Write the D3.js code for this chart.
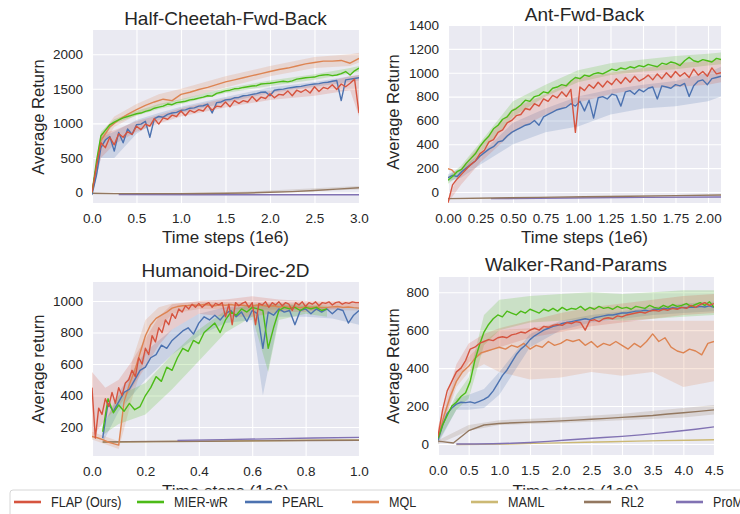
<!DOCTYPE html>
<html>
<head>
<meta charset="utf-8">
<script src="https://cdn.jsdelivr.net/npm/d3@7"></script>
<style>
  body { margin: 0; background: #fff; }
  svg text { font-family: "Liberation Sans", Arial, sans-serif; fill: #262626; }
</style>
</head>
<body>
<svg id="chart" width="740" height="514"></svg>
<script>
// ---- series ----
const seriesNames = ["FLAP (Ours)", "MIER-wR", "PEARL", "MQL", "MAML", "RL2", "ProMP"];
const seriesColors = ["#d6543f", "#4cbb17", "#4c72b0", "#dd8452", "#ccb974", "#937860", "#8172b3"];

// ---- Half-Cheetah-Fwd-Back ----
const hcXTicks = [0, 0.5, 1, 1.5, 2, 2.5, 3];
const hcYTicks = [0, 500, 1000, 1500, 2000];
const hcFlap = [0,380,720,650,800,690,850,800,880,840, 960,910,990,960,1070,990,1080,1060,1120,1100,
  1180,1110,1190,1160,1200,1180,1260,1190,1250,1240, 1310,1240,1330,1290,1330,1310,1390,1320,1380,1360,
  1430,1370,1420,1410,1470,1400,1480,1450,1490,1440, 1530,1460,1520,1500,1560,1490,1570,1530,1580,1640, 1150];
const hcPearl = [-30,250,650,760,810,600,870,720,920,840, 980,990,1030,800,1070,1100,1090,1130,1150,1160,
  1190,1195,1220,1225,1250,1255,1280,1150,1300,1310, 1340,1345,1370,1375,1400,1405,1420,1430,1450,1455,
  1400,1480,1490,1495,1510,1520,1530,1535,1550,1560, 1570,1575,1590,1595,1610,1620,1330,1630,1640,1650, 1660];
const hcMier = [0,450,820,900,980,1020,1050,1080,1100,1120, 1140,1150,1175,1190,1220,1235,1250,1280,1270,1300,
  1310,1320,1340,1350,1365,1380,1400,1395,1435,1450, 1470,1480,1500,1505,1520,1530,1540,1545,1570,1575,
  1580,1590,1600,1610,1600,1615,1640,1650,1660,1665, 1670,1690,1700,1705,1690,1700,1720,1750,1700,1760, 1800];
const hcMql = [0,750,950,1050,1130,1200,1260,1310,1350,1330, 1420,1450,1490,1520,1560,1600,1630,1660,1690,1720,
  1750,1780,1800,1830,1860,1880,1900,1900,1910,1870, 1940];
const hcRl2 = [-10,-15,-15,-15,-15,-12,-10,-5,5,15,30,50,70];
const hcPromp = [-28,-30,-30,-30];
const hcBandX = [0, 0.1, 0.25, 0.5, 0.75, 1.0, 1.5, 2.0, 2.5, 2.9, 3.0];
const hcFlapLo = [-50,500,700,880,1000,1100,1230,1340,1400,1480,1100];
const hcFlapHi = [50,850,900,1030,1120,1220,1360,1470,1560,1680,1700];
const hcPearlLo = [-50,500,500,850,1050,1150,1300,1440,1530,1600,1620];
const hcPearlHi = [50,800,880,1050,1150,1240,1380,1520,1600,1680,1700];
const hcMierLo = [-50,750,1000,1110,1210,1280,1440,1540,1630,1720,1750];
const hcMierHi = [50,880,1060,1180,1280,1350,1510,1620,1710,1800,1830];
const hcMqlLo = [-50,650,950,1120,1260,1340,1520,1680,1800,1830,1880];
const hcMqlHi = [50,850,1100,1280,1420,1500,1680,1830,1960,2000,2020];
const hcRl2BandX = [0, 1.5, 3];
const hcRl2Lo = [-25,-25,45];
const hcRl2Hi = [-5,0,95];

// ---- Ant-Fwd-Back ----
const antXTicks = [0, 0.25, 0.5, 0.75, 1, 1.25, 1.5, 1.75, 2];
const antYTicks = [0, 200, 400, 600, 800, 1000, 1200, 1400];
const antMier = [100,130,170,190,240,280,320,380,430,470, 530,560,610,630,680,700,730,770,760,800,
  810,840,830,870,880,900,890,930,960,950, 980,970,990,1000,990,1010,1030,1020,1040,1030,
  1050,1040,1060,1050,1070,1060,1050,1080,1070,1090, 1080,1060,1100,1130,1100,1090,1110,1100,1090,1120, 1110];
const antFlap = [-90,60,110,150,190,230,260,320,350,420, 440,500,520,580,600,640,650,700,690,740,
  720,780,760,810,790,840,800,860,500,880, 850,900,870,920,880,930,900,950,910,960,
  920,970,930,950,980,940,990,950,1000,960, 1010,970,1000,960,1030,980,1010,970,1040,990, 1000];
const antPearl = [120,140,130,170,200,230,260,300,330,360, 380,420,430,470,500,520,540,560,570,600,
  560,630,650,670,690,700,710,740,720,760, 680,770,620,790,800,780,820,810,720,840,
  850,820,860,840,870,880,780,890,880,870, 900,890,910,800,890,930,940,900,950,960, 970];
const antMql = [195,185,150];
const antRl2 = [-55,-50,-45,-40,-35,-30,-25];
const antPromp = [-55,-50,-45,-42];
const antBandX = [0, 0.1, 0.25, 0.5, 0.75, 1.0, 1.25, 1.5, 1.75, 2.0, 2.1];
const antMierLo = [70,150,330,630,800,920,980,1010,1030,1060,1070];
const antMierHi = [130,220,420,760,900,1020,1080,1110,1140,1160,1170];
const antFlapLo = [-90,60,250,500,650,750,820,870,880,900,920];
const antFlapHi = [-60,200,400,700,820,960,1000,1040,1080,1100,1110];
const antPearlLo = [90,120,230,400,500,550,650,700,720,760,800];
const antPearlHi = [150,200,320,580,700,800,860,900,930,1000,1050];

// ---- Humanoid-Direc-2D ----
const humXTicks = [0, 0.2, 0.4, 0.6, 0.8, 1.0];
const humYTicks = [200, 400, 600, 800, 1000];
const humFlap = [450,130,320,280,380,330,420,350,450,400, 480,500,560,520,640,600,700,660,780,740,
  830,800,880,850,920,890,950,930,970,950, 980,960,985,960,980,990,960,985,975,990,
  900,980,850,990,970,985,995,960,990,850, 985,975,995,960,990,975,995,970,990,980,
  940,990,975,995,965,990,980,995,970,990, 985,995,975,990,995,980,990,985,995,990, 990];
const humPearl = [130,350,300,360,420,440,500,560,580,640, 660,720,700,750,780,810,830,790,860,900,
  880,910,880,920,940,900,930,870,940,920, 700,930,910,950,930,940,850,940,950,920,
  950,930,950,920,950,940,860,910,940];
const humMier = [170,380,290,340,300,350,310,330,400,450, 520,490,580,560,640,700,680,750,730,800,
  830,860,800,880,930,910,950,930,960,950, 940,700,830,940,960,950,960,940,960,950, 960,940,950];
const humMql = [140,132,120,105,95,85,360,470,560,670, 780,850,890,910,930,955,965,970,972,975,
  972,978,975,970,976,973,978,972,975,970, 968,975,972,966,970,962,965,960,963,958,
  962,960,962,958,960,963,965,960,962,958, 955];
const humRl2 = [105,108,110,112,114,116];
const humPromp = [115,120,125,130,134];
const humMaml = [104,107,110,113,116,118];
const humFlapBandX = [0, 0.05, 0.1, 0.15, 0.2, 0.25, 0.3, 0.4, 0.5, 0.6, 0.7, 0.8, 0.9, 1.0];
const humFlapLo = [130,250,330,450,580,720,820,920,900,900,930,930,950,960];
const humFlapHi = [550,450,500,620,760,900,980,1000,1010,1030,1010,1000,1000,1000];
const humPearlBandX = [0.04, 0.1, 0.2, 0.3, 0.4, 0.5, 0.6, 0.64, 0.7, 0.8, 0.9, 1.0];
const humPearlLo = [100,300,500,660,780,860,880,400,900,900,890,850];
const humPearlHi = [200,420,680,820,920,960,970,980,980,970,960,960];
const humMierBandX = [0.04, 0.1, 0.2, 0.3, 0.4, 0.5, 0.6, 0.66, 0.7, 0.8, 0.88];
const humMierLo = [150,220,280,440,620,800,900,550,880,920,900];
const humMierHi = [200,400,480,660,820,940,980,980,980,980,970];
const humMqlBandX = [0, 0.1, 0.15, 0.2, 0.25, 0.3, 0.4, 1.0];
const humMqlLo = [120,60,380,650,820,920,950,940];
const humMqlHi = [170,110,620,880,960,985,995,985];

// ---- Walker-Rand-Params ----
const wlkXTicks = [0, 0.5, 1, 1.5, 2, 2.5, 3, 3.5, 4, 4.5];
const wlkYTicks = [0, 200, 400, 600, 800];
const wlkMier = [30,100,150,200,220,250,270,330,440,520, 590,630,660,680,670,700,690,680,700,690,
  710,700,690,710,700,715,700,720,705,715, 710,725,705,720,710,725,715,720,710,725,
  715,720,710,725,720,715,730,720,715,730, 720,735,725,730,740,725,735,745,730,750, 720];
const wlkFlap = [40,180,280,330,380,400,440,500,510,530, 540,550,545,560,565,560,575,580,590,585,
  600,610,600,620,615,625,630,625,640,635, 645,640,600,650,655,645,660,665,660,675,
  670,680,685,690,695,690,700,705,700,710, 705,715,710,720,715,730,720,735,745,730, 740];
const wlkPearl = [20,100,160,190,210,220,218,222,215,225, 235,250,280,320,360,390,430,470,500,520,
  550,570,585,600,610,620,625,635,640,645, 650,655,660,655,665,670,675,680,680,685,
  690,690,695,700,700,705,700,710,710,715, 712,718,715,720,718,722,720,725,722,728, 720];
const wlkMql = [30,150,250,330,380,410,450,480,490,500, 510,500,520,510,530,500,520,510,540,520,
  530,550,540,550,520,540,510,530,520,540, 520,500,530,510,540,580,540,560,510,490,
  480,500,490,470,530,540];
const wlkRl2 = [15,5,70,100,108,112,115,118,122,126,130,135,140,145,150,158,165,172,180];
const wlkPromp = [0,0,1,4,8,14,21,28,34,40,48,57,67,78,90];
const wlkMaml = [-3,-2,0,3,6,9,12,15,18,20,22];
const wlkBandX = [0, 0.3, 0.5, 0.75, 1.0, 1.5, 2.0, 2.5, 3.0, 3.5, 4.0, 4.5];
const wlkMierLo = [10,180,240,520,600,640,650,660,650,660,670,680];
const wlkMierHi = [60,260,350,680,760,780,790,800,790,800,810,810];
const wlkFlapLo = [0,330,430,480,510,560,590,620,640,660,680,690];
const wlkFlapHi = [90,420,530,580,610,650,690,720,740,760,780,790];
const wlkPearlLo = [0,180,180,190,260,510,600,640,660,680,690,700];
const wlkPearlHi = [50,240,260,290,380,580,650,680,700,720,740,750];
const wlkMqlLo = [10,300,380,420,380,340,350,380,360,380,300,330];
const wlkMqlHi = [60,380,460,540,600,610,640,650,650,650,650,650];
const wlkRl2BandX = [0, 0.5, 1, 2, 3, 4, 4.5];
const wlkRl2Lo = [0,70,100,110,125,140,155];
const wlkRl2Hi = [20,100,125,140,160,190,205];

// series index: 0 FLAP, 1 MIER, 2 PEARL, 3 MQL, 4 MAML, 5 RL2, 6 ProMP
const panels = [
  { title: "Half-Cheetah-Fwd-Back", ylabel: "Average Return", box: [92, 30, 359, 203],
    xd: [0, 3], yd: [-150, 2350], xt: hcXTicks, yt: hcYTicks, fmt: ".1f",
    titleY: 25, ylabX: 44, ylabY: 117, xlabY: 243,
    bands: [[5, hcRl2BandX, hcRl2Lo, hcRl2Hi], [3, hcBandX, hcMqlLo, hcMqlHi], [2, hcBandX, hcPearlLo, hcPearlHi],
            [1, hcBandX, hcMierLo, hcMierHi], [0, hcBandX, hcFlapLo, hcFlapHi]],
    lines: [[6, 0.3, 3, hcPromp], [5, 0, 3, hcRl2], [3, 0, 3, hcMql], [2, 0, 3, hcPearl], [1, 0, 3, hcMier], [0, 0, 3, hcFlap]] },
  { title: "Ant-Fwd-Back", ylabel: "Average Return", box: [448, 25, 721, 203],
    xd: [0, 2.1], yd: [-92, 1400], xt: antXTicks, yt: antYTicks, fmt: ".2f",
    titleY: 21, ylabX: 399, ylabY: 112, xlabY: 243,
    bands: [[2, antBandX, antPearlLo, antPearlHi], [1, antBandX, antMierLo, antMierHi], [0, antBandX, antFlapLo, antFlapHi]],
    lines: [[6, 0.33, 2.1, antPromp], [5, 0, 2.1, antRl2], [3, 0, 0.06, antMql], [2, 0, 2.1, antPearl], [1, 0, 2.1, antMier], [0, 0, 2.1, antFlap]] },
  { title: "Humanoid-Direc-2D", ylabel: "Average return", box: [92, 282, 359, 456],
    xd: [0, 1], yd: [16, 1121], xt: humXTicks, yt: humYTicks, fmt: ".1f",
    titleY: 277, ylabX: 44, ylabY: 369, xlabY: 497,
    bands: [[3, humMqlBandX, humMqlLo, humMqlHi], [2, humPearlBandX, humPearlLo, humPearlHi],
            [1, humMierBandX, humMierLo, humMierHi], [0, humFlapBandX, humFlapLo, humFlapHi]],
    lines: [[4, 0.04, 1, humMaml], [5, 0.04, 1, humRl2], [6, 0.32, 1, humPromp], [3, 0, 1, humMql],
            [2, 0.04, 1, humPearl], [1, 0.04, 0.88, humMier], [0, 0, 1, humFlap]] },
  { title: "Walker-Rand-Params", ylabel: "Average Return", box: [438, 277, 714, 455],
    xd: [0, 4.5], yd: [-58, 880], xt: wlkXTicks, yt: wlkYTicks, fmt: ".1f",
    titleY: 271, ylabX: 399, ylabY: 366, xlabY: 497,
    bands: [[5, wlkRl2BandX, wlkRl2Lo, wlkRl2Hi], [3, wlkBandX, wlkMqlLo, wlkMqlHi], [2, wlkBandX, wlkPearlLo, wlkPearlHi],
            [1, wlkBandX, wlkMierLo, wlkMierHi], [0, wlkBandX, wlkFlapLo, wlkFlapHi]],
    lines: [[4, 0.3, 4.5, wlkMaml], [6, 0.3, 4.5, wlkPromp], [5, 0, 4.5, wlkRl2], [3, 0, 4.5, wlkMql],
            [2, 0, 4.5, wlkPearl], [1, 0, 4.5, wlkMier], [0, 0, 4.5, wlkFlap]] }
];

function spread(x0, x1, v) {
  const n = v.length;
  return v.map((d, i) => [x0 + (x1 - x0) * i / (n - 1), d]);
}

const svg = d3.select("#chart");

panels.forEach((p, pi) => {
  const [l, t, r, b] = p.box;
  const x = d3.scaleLinear().domain(p.xd).range([l, r]);
  const y = d3.scaleLinear().domain(p.yd).range([b, t]);
  const g = svg.append("g");

  g.append("clipPath").attr("id", "clip" + pi)
    .append("rect").attr("x", l).attr("y", t).attr("width", r - l).attr("height", b - t);

  g.append("rect").attr("x", l).attr("y", t).attr("width", r - l).attr("height", b - t)
    .attr("fill", "#eaeaf2");

  const xa = g.append("g").attr("transform", `translate(0,${b})`)
    .call(d3.axisBottom(x).tickValues(p.xt).tickFormat(d3.format(p.fmt)).tickSize(-(b - t)).tickPadding(10));
  const ya = g.append("g").attr("transform", `translate(${l},0)`)
    .call(d3.axisLeft(y).tickValues(p.yt).tickFormat(d3.format("d")).tickSize(-(r - l)).tickPadding(9));
  [xa, ya].forEach(a => {
    a.select(".domain").remove();
    a.selectAll("line").attr("stroke", "#fff").attr("stroke-width", 1.1);
    a.selectAll("text").attr("font-size", 13.5).attr("fill", "#262626")
      .style("font-family", "'Liberation Sans', Arial, sans-serif");
  });

  const plot = g.append("g").attr("clip-path", `url(#clip${pi})`);

  const area = d3.area().x(d => x(d[0])).y0(d => y(d[1])).y1(d => y(d[2]));
  p.bands.forEach(([k, bx, lo, hi]) => {
    plot.append("path")
      .datum(bx.map((v, i) => [v, lo[i], hi[i]]))
      .attr("d", area)
      .attr("fill", seriesColors[k])
      .attr("fill-opacity", 0.2);
  });

  const line = d3.line().x(d => x(d[0])).y(d => y(d[1]));
  p.lines.forEach(([k, x0, x1, v]) => {
    plot.append("path")
      .datum(spread(x0, x1, v))
      .attr("d", line)
      .attr("fill", "none")
      .attr("stroke", seriesColors[k])
      .attr("stroke-width", 1.4)
      .attr("stroke-linejoin", "round");
  });

  g.append("text").attr("x", (l + r) / 2).attr("y", p.titleY)
    .attr("text-anchor", "middle").attr("font-size", 19).text(p.title);
  g.append("text").attr("transform", `translate(${p.ylabX},${p.ylabY}) rotate(-90)`)
    .attr("text-anchor", "middle").attr("font-size", 16.5).text(p.ylabel);
  g.append("text").attr("x", (l + r) / 2).attr("y", p.xlabY)
    .attr("text-anchor", "middle").attr("font-size", 17).text("Time steps (1e6)");
});

// legend (drawn last, it covers the lower x labels as in the original)
const legendX = [14, 137, 245, 352, 471, 584, 676];
const lg = svg.append("g");
lg.append("rect").attr("x", 10).attr("y", 490).attr("width", 740).attr("height", 30)
  .attr("rx", 3).attr("fill", "#fff").attr("stroke", "#cccccc").attr("stroke-width", 0.8);
seriesNames.forEach((name, i) => {
  lg.append("line").attr("x1", legendX[i]).attr("x2", legendX[i] + 27)
    .attr("y1", 502).attr("y2", 502)
    .attr("stroke", seriesColors[i]).attr("stroke-width", 2.6);
  lg.append("text").attr("transform", `translate(${legendX[i] + 37},507) scale(0.84,1)`)
    .attr("font-size", 15).text(name);
});
</script>
</body>
</html>
